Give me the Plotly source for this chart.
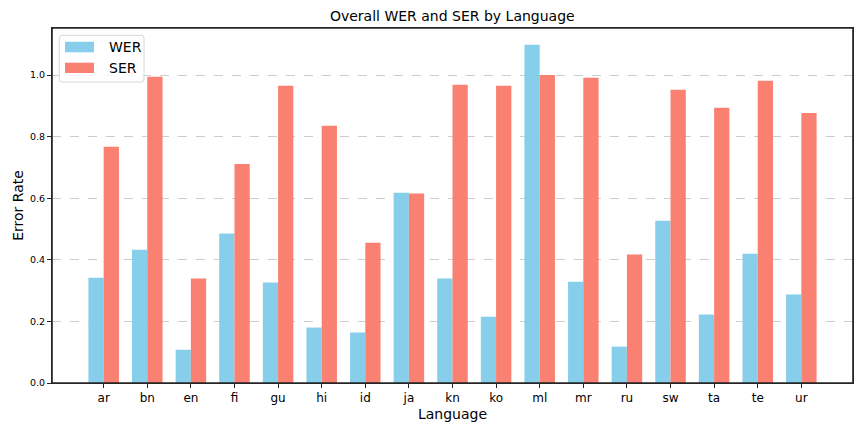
import plotly.graph_objects as go

languages = ["ar", "bn", "en", "fi", "gu", "hi", "id", "ja", "kn",
             "ko", "ml", "mr", "ru", "sw", "ta", "te", "ur"]

wer = [0.342, 0.433, 0.108, 0.485, 0.326, 0.180, 0.164, 0.618, 0.339,
       0.215, 1.098, 0.329, 0.118, 0.527, 0.222, 0.420, 0.287]

ser = [0.767, 0.994, 0.339, 0.711, 0.965, 0.835, 0.455, 0.615, 0.968,
       0.965, 1.000, 0.991, 0.417, 0.952, 0.894, 0.981, 0.877]

y_ticks = [0.0, 0.2, 0.4, 0.6, 0.8, 1.0]

WER_COLOR = "#87CEEB"
SER_COLOR = "#FA8072"
FONT = "DejaVu Sans"

PLOT_W = 801
PLOT_H = 355

fig = go.Figure()

# Bars

fig.add_trace(
    go.Bar(
        x=languages,
        y=wer,
        name="WER",
        marker_color=WER_COLOR,
        marker_line_width=0
    )
)

fig.add_trace(
    go.Bar(
        x=languages,
        y=ser,
        name="SER",
        marker_color=SER_COLOR,
        marker_line_width=0
    )
)

# Axes frame (all four spines)

fig.add_shape(
    type="rect",
    xref="paper", yref="paper",
    x0=0, x1=1, y0=0, y1=1,
    line=dict(color="#262626", width=1.6),
    layer="above"
)

# Legend drawn by hand so the patches look like matplotlib's

def rounded_box(x0, x1, y0, y1, rx, ry):
    return (
        f"M {x0 + rx},{y0} L {x1 - rx},{y0} Q {x1},{y0} {x1},{y0 + ry} "
        f"L {x1},{y1 - ry} Q {x1},{y1} {x1 - rx},{y1} "
        f"L {x0 + rx},{y1} Q {x0},{y1} {x0},{y1 - ry} "
        f"L {x0},{y0 + ry} Q {x0},{y0} {x0 + rx},{y0} Z"
    )


fig.add_shape(
    type="path",
    xref="paper", yref="paper",
    path=rounded_box(0.0091, 0.1149, 0.8479, 0.9794, 3 / PLOT_W, 3 / PLOT_H),
    line=dict(color="#d6d6d6", width=1),
    fillcolor="rgba(255,255,255,0.8)",
    layer="above"
)

legend_items = [("WER", WER_COLOR, 0.9614, 0.9315), ("SER", SER_COLOR, 0.9023, 0.8732)]

for label, color, top, bottom in legend_items:
    fig.add_shape(
        type="rect",
        xref="paper", yref="paper",
        x0=0.0162, x1=0.0524, y0=bottom, y1=top,
        line_width=0,
        fillcolor=color,
        layer="above"
    )
    fig.add_annotation(
        xref="paper", yref="paper",
        x=0.0687, y=(top + bottom) / 2,
        text=label,
        showarrow=False,
        xanchor="left", yanchor="middle",
        font=dict(family=FONT, size=14, color="black")
    )

fig.update_layout(
    width=864,
    height=432,
    margin=dict(l=52, r=11, t=28, b=49),
    paper_bgcolor="white",
    plot_bgcolor="white",
    barmode="group",
    bargap=0.3,
    bargroupgap=0,
    showlegend=False,
    font=dict(family=FONT, color="black"),
    title=dict(
        text="Overall WER and SER by Language",
        x=0.5235,
        xanchor="center",
        y=0.962,
        yanchor="middle",
        font=dict(family=FONT, size=14, color="black")
    )
)

fig.update_xaxes(
    range=[-1.185, 17.185],
    automargin=False,
    showline=True,
    mirror=True,
    linecolor="#262626",
    linewidth=1,
    ticks="outside",
    ticklen=4,
    tickcolor="#262626",
    showgrid=False,
    tickfont=dict(family=FONT, size=12, color="black"),
    title=dict(text="Language", font=dict(family=FONT, size=14, color="black"), standoff=4)
)

fig.update_yaxes(
    range=[0, 1.1526],
    automargin=False,
    tickvals=y_ticks,
    tickformat=".1f",
    showline=True,
    mirror=True,
    linecolor="#262626",
    linewidth=1,
    ticks="outside",
    ticklen=4,
    tickcolor="#262626",
    showgrid=True,
    gridcolor="#cccccc",
    griddash="dash",
    gridwidth=0.8,
    zeroline=False,
    tickfont=dict(family=FONT, size=9.5, color="black"),
    title=dict(text="Error Rate", font=dict(family=FONT, size=14, color="black"), standoff=3)
)

fig.write_html(
    "out.html",
    config={"displayModeBar": False},
    post_script="document.body.style.margin='0';"
)
